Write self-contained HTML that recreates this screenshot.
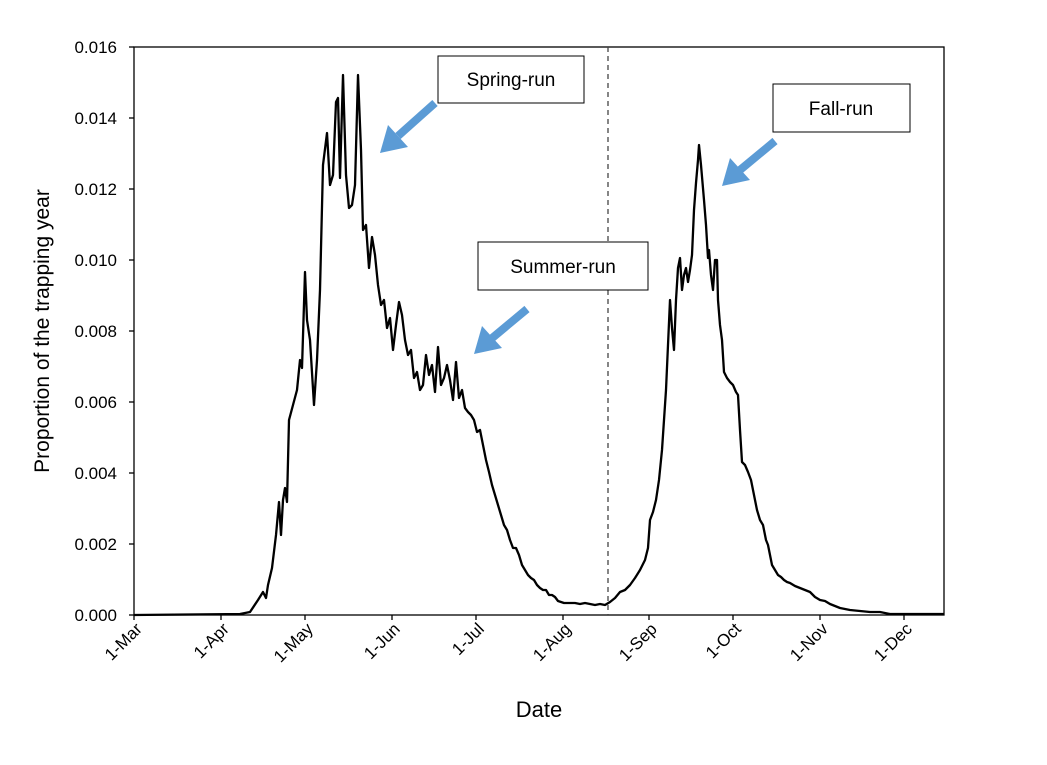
<!DOCTYPE html>
<html><head><meta charset="utf-8"><style>
body{margin:0;background:#fff;}
text{font-family:"Liberation Sans",Arial,sans-serif;fill:#000;}
</style></head><body>
<svg width="1047" height="760" viewBox="0 0 1047 760" xmlns="http://www.w3.org/2000/svg">
<rect width="1047" height="760" fill="#fff"/>
<rect x="134" y="47" width="810" height="568" fill="none" stroke="#000" stroke-width="1.3"/>
<g stroke="#000" stroke-width="1.3">
<line x1="129" y1="47" x2="134" y2="47"/><line x1="129" y1="118" x2="134" y2="118"/><line x1="129" y1="189" x2="134" y2="189"/><line x1="129" y1="260" x2="134" y2="260"/><line x1="129" y1="331" x2="134" y2="331"/><line x1="129" y1="402" x2="134" y2="402"/><line x1="129" y1="473" x2="134" y2="473"/><line x1="129" y1="544" x2="134" y2="544"/><line x1="129" y1="615" x2="134" y2="615"/>
<line x1="134" y1="615" x2="134" y2="620"/><line x1="221" y1="615" x2="221" y2="620"/><line x1="305" y1="615" x2="305" y2="620"/><line x1="392" y1="615" x2="392" y2="620"/><line x1="476" y1="615" x2="476" y2="620"/><line x1="563" y1="615" x2="563" y2="620"/><line x1="649" y1="615" x2="649" y2="620"/><line x1="733" y1="615" x2="733" y2="620"/><line x1="820" y1="615" x2="820" y2="620"/><line x1="904" y1="615" x2="904" y2="620"/>
</g>
<g font-size="17" text-anchor="end">
<text x="117" y="53">0.016</text><text x="117" y="124">0.014</text><text x="117" y="195">0.012</text><text x="117" y="266">0.010</text><text x="117" y="337">0.008</text><text x="117" y="408">0.006</text><text x="117" y="479">0.004</text><text x="117" y="550">0.002</text><text x="117" y="621">0.000</text>
</g>
<g font-size="17" text-anchor="end">
<text transform="translate(143,630) rotate(-45)">1-Mar</text>
<text transform="translate(230,630) rotate(-45)">1-Apr</text>
<text transform="translate(314,630) rotate(-45)">1-May</text>
<text transform="translate(401,630) rotate(-45)">1-Jun</text>
<text transform="translate(485,630) rotate(-45)">1-Jul</text>
<text transform="translate(572,630) rotate(-45)">1-Aug</text>
<text transform="translate(658,630) rotate(-45)">1-Sep</text>
<text transform="translate(742,630) rotate(-45)">1-Oct</text>
<text transform="translate(829,630) rotate(-45)">1-Nov</text>
<text transform="translate(913,630) rotate(-45)">1-Dec</text>
</g>
<text x="539" y="717" font-size="22" text-anchor="middle">Date</text>
<text transform="translate(49,331) rotate(-90)" font-size="21" text-anchor="middle">Proportion of the trapping year</text>
<line x1="608" y1="47" x2="608" y2="615" stroke="#444" stroke-width="1.3" stroke-dasharray="5,4"/>
<polyline fill="none" stroke="#000" stroke-width="2.3" stroke-linejoin="round" points="134,615 240,614 250,612 258,600 263,592 266,598 268,585 272,568 276,535 279,502 281,535 283,500 285,488 287,502 289,420 293,405 297,390 300,360 302,368 305,272 307,320 310,340 314,405 317,360 320,290 323,165 327,133 330,185 333,175 336,102 338,98 340,178 343,75 346,175 349,208 352,205 355,185 358,75 361,150 363,230 366,225 369,268 372,237 375,255 378,285 381,305 384,300 387,328 390,318 393,350 396,325 399,302 402,315 405,340 408,355 411,350 414,378 417,372 420,390 423,385 426,355 429,375 432,365 435,392 438,347 441,385 444,378 447,365 450,380 453,400 456,362 459,398 462,390 465,408 468,412 471,415 474,420 477,432 480,430 483,445 486,460 489,472 492,485 495,495 498,505 501,515 504,525 507,530 510,540 513,548 516,548 519,555 522,565 525,570 528,575 531,578 534,580 537,585 540,588 543,590 546,590 549,595 552,595 555,597 558,601 561,602 564,603 570,603 575,603 580,604 585,603 590,604 595,605 600,604 605,605 610,602 615,598 620,592 625,590 630,585 635,578 640,570 645,560 648,548 650,520 653,512 656,500 659,480 662,450 664,420 666,390 668,345 670,300 672,328 674,350 676,300 678,268 680,258 682,290 684,275 686,268 688,282 690,270 692,255 694,210 696,183 698,160 699,145 701,165 704,200 706,225 708,258 709,250 711,275 713,290 715,260 717,260 718,300 720,325 722,340 724,372 727,378 730,382 733,385 736,392 738,395 740,430 742,462 745,465 748,472 751,480 754,495 757,510 760,520 763,525 766,540 768,545 770,555 772,565 775,570 778,575 781,577 784,580 787,582 790,583 795,586 800,588 805,590 810,592 815,597 820,600 825,601 830,604 835,606 840,608 845,609 850,610 860,611 870,612 880,612 890,614 944,614"/>
<g fill="#fff" stroke="#000" stroke-width="1">
<rect x="438" y="56" width="146" height="47"/>
<rect x="773" y="84" width="137" height="48"/>
<rect x="478" y="242" width="170" height="48"/>
</g>
<g font-size="19" text-anchor="middle">
<text x="511" y="86">Spring-run</text>
<text x="841" y="115">Fall-run</text>
<text x="563" y="273">Summer-run</text>
</g>
<g stroke="#5B9BD5" stroke-width="8" fill="#5B9BD5">
<line x1="435" y1="103" x2="398" y2="136"/>
<line x1="775" y1="141" x2="740" y2="170"/>
<line x1="527" y1="309" x2="491" y2="339"/>
</g>
<g fill="#5B9BD5">
<polygon points="380,153 388,125 408,147"/>
<polygon points="722,186 730,158 750,180"/>
<polygon points="474,354 482,326 502,348"/>
</g>
</svg>
</body></html>
